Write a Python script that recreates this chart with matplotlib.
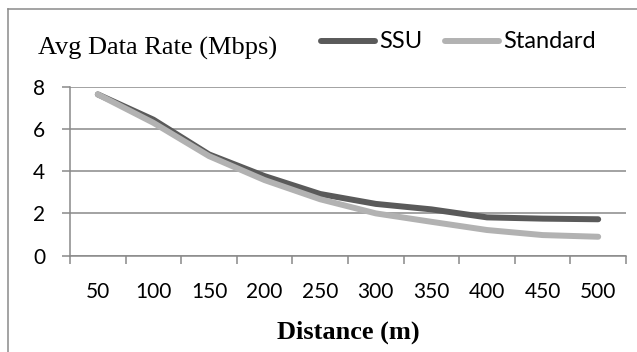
import matplotlib.pyplot as plt
from matplotlib.lines import Line2D
from matplotlib.ticker import FixedLocator

# chart data
distance = ["50", "100", "150", "200", "250", "300", "350", "400", "450", "500"]
ssu = [7.65, 6.45, 4.8, 3.77, 2.92, 2.45, 2.19, 1.81, 1.75, 1.72]
standard = [7.65, 6.3, 4.72, 3.58, 2.67, 2.0, 1.6, 1.21, 0.97, 0.89]
y_ticks = [0, 2, 4, 6, 8]

W, H = 637, 352
fig = plt.figure(figsize=(W / 100, H / 100), dpi=100)
ax = fig.add_axes([70 / W, 1 - 255.5 / H, (626 - 70) / W, (255.5 - 87) / H])

grid_c = "#898989"
x = list(range(len(distance)))
ax.plot(x, standard, color="#b2b2b2", lw=4.3, solid_capstyle="round", zorder=3)
ax.plot(x, ssu, color="#5a5a5a", lw=4.3, solid_capstyle="round", zorder=2)

ax.set_xlim(-0.5, len(distance) - 0.5)
ax.set_ylim(0, 8)
ax.set_yticks(y_ticks)
ax.set_xticks(x)
ax.set_xticklabels(distance)
ax.xaxis.set_minor_locator(FixedLocator([i - 0.5 for i in range(len(distance) + 1)]))
ax.yaxis.grid(True, color=grid_c, lw=1.1)
ax.set_axisbelow(True)

for s in ["top", "right"]:
    ax.spines[s].set_visible(False)
for s in ["left", "bottom"]:
    ax.spines[s].set_color(grid_c)
    ax.spines[s].set_linewidth(1.1)

ax.tick_params(axis="x", which="major", length=0, pad=19, labelsize=15)
ax.tick_params(axis="x", which="minor", length=6, width=1.1, color=grid_c, direction="out")
ax.tick_params(axis="y", length=6, width=1.1, color=grid_c, pad=12, labelsize=15)
for lab in ax.get_xticklabels() + ax.get_yticklabels():
    lab.set_fontfamily("Lato")

fig.text(38 / W, 1 - 55 / H, "Avg Data Rate (Mbps)", family="Liberation Serif",
         fontsize=19, ha="left", va="baseline")
fig.text(348 / W, 1 - 339 / H, "Distance (m)", family="Liberation Serif",
         fontweight="bold", fontsize=19, ha="center", va="baseline")

# legend drawn by hand to sit in the top row like the original
fig.add_artist(Line2D([321 / W, 375 / W], [1 - 41 / H] * 2, color="#5a5a5a", lw=4.3,
                      solid_capstyle="round"))
fig.text(379 / W, 1 - 41 / H, "SSU", family="Lato", fontsize=17, va="center", ha="left")
fig.add_artist(Line2D([445 / W, 499 / W], [1 - 41 / H] * 2, color="#b2b2b2", lw=4.3,
                      solid_capstyle="round"))
fig.text(503 / W, 1 - 41 / H, "Standard", family="Lato", fontsize=17, va="center", ha="left")

# outer chart border (left and top only, the rest is cropped)
border = "#8a8a8a"
fig.add_artist(Line2D([8 / W, 8 / W], [0, 1 - 9 / H], color=border, lw=1.1))
fig.add_artist(Line2D([8 / W, 1], [1 - 9 / H] * 2, color=border, lw=1.1))

fig.savefig("out.png", dpi=100)
